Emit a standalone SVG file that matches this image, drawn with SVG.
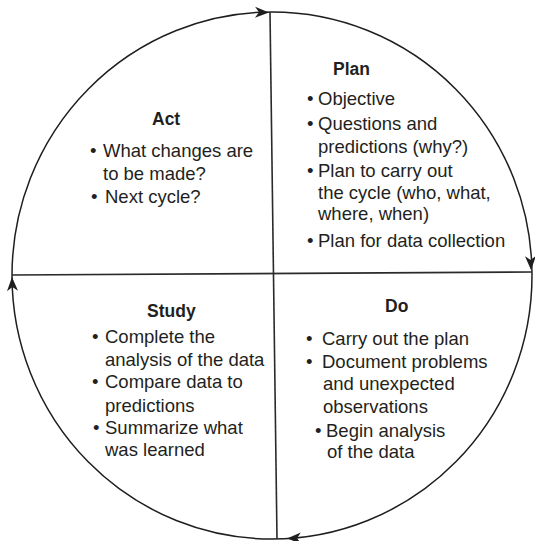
<svg xmlns="http://www.w3.org/2000/svg" width="535" height="541" viewBox="0 0 535 541">
  <style>
    .ring { fill: none; stroke: #1e1e1e; stroke-width: 1.5; }
    .axis { stroke: #2a2a2a; stroke-width: 1.6; }
    .head { fill: #1e1e1e; }
    text { font-family: "Liberation Sans", Arial, sans-serif; fill: #231f20; }
    .title { font-size: 17.5px; font-weight: bold; }
    .item { font-size: 18.5px; }
  </style>
  <defs>
    <!-- arrowhead with its tip at the origin, pointing along +x -->
    <path id="arrowhead" d="M0,0 L-14,-5.5 L-10,0 L-14,5.5 Z"/>
  </defs>

  <rect width="535" height="541" fill="#ffffff"/>

  <!-- cycle ring, quadrant dividers and direction arrows -->
  <g id="connectors">
    <ellipse class="ring" cx="272" cy="275.5" rx="260" ry="263.5"/>
    <line class="axis" x1="270" y1="12" x2="277" y2="539"/>
    <line class="axis" x1="12" y1="275" x2="532" y2="272"/>
    <use href="#arrowhead" class="head" transform="translate(269,12.5) rotate(1)"/>
    <use href="#arrowhead" class="head" transform="translate(531,270) rotate(88)"/>
    <use href="#arrowhead" class="head" transform="translate(287,538.6) rotate(178)"/>
    <use href="#arrowhead" class="head" transform="translate(12,277) rotate(-92)"/>
  </g>

  <g id="plan">
    <text class="title" x="333" y="75">Plan</text>
    <text class="item" x="307" y="105">•</text>
    <text class="item" x="318" y="105">Objective</text>
    <text class="item" x="307" y="130">•</text>
    <text class="item" x="318" y="130">Questions and</text>
    <text class="item" x="318" y="153">predictions (why?)</text>
    <text class="item" x="307" y="177">•</text>
    <text class="item" x="318" y="177">Plan to carry out</text>
    <text class="item" x="318" y="199">the cycle (who, what,</text>
    <text class="item" x="318" y="220">where, when)</text>
    <text class="item" x="307" y="247">•</text>
    <text class="item" x="318" y="247">Plan for data collection</text>
  </g>

  <g id="act">
    <text class="title" x="152" y="125">Act</text>
    <text class="item" x="90" y="157">•</text>
    <text class="item" x="103" y="157">What changes are</text>
    <text class="item" x="103" y="180">to be made?</text>
    <text class="item" x="91" y="203">•</text>
    <text class="item" x="105" y="203">Next cycle?</text>
  </g>

  <g id="study">
    <text class="title" x="147" y="317">Study</text>
    <text class="item" x="92" y="343">•</text>
    <text class="item" x="105" y="343">Complete the</text>
    <text class="item" x="105" y="366">analysis of the data</text>
    <text class="item" x="92" y="388">•</text>
    <text class="item" x="105" y="388">Compare data to</text>
    <text class="item" x="105" y="412">predictions</text>
    <text class="item" x="93" y="434">•</text>
    <text class="item" x="105" y="434">Summarize what</text>
    <text class="item" x="105" y="456">was learned</text>
  </g>

  <g id="do">
    <text class="title" x="385" y="312">Do</text>
    <text class="item" x="306" y="345">•</text>
    <text class="item" x="322" y="345">Carry out the plan</text>
    <text class="item" x="306" y="368">•</text>
    <text class="item" x="322" y="368">Document problems</text>
    <text class="item" x="323" y="390">and unexpected</text>
    <text class="item" x="323" y="413">observations</text>
    <text class="item" x="315" y="437">•</text>
    <text class="item" x="326" y="437">Begin analysis</text>
    <text class="item" x="327" y="458">of the data</text>
  </g>
</svg>
